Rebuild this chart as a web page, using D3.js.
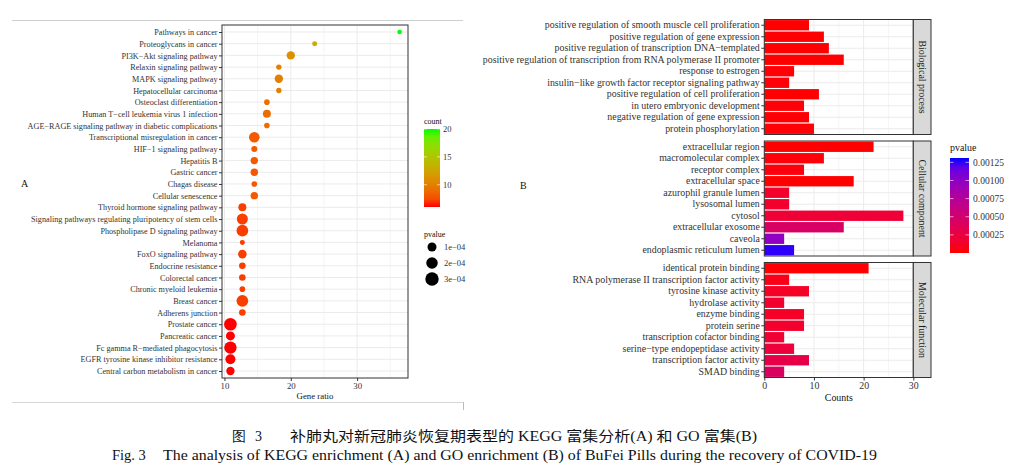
<!DOCTYPE html>
<html><head><meta charset="utf-8">
<script src="https://cdn.jsdelivr.net/npm/d3@7"></script>
<style>body{margin:0;background:#fff}svg{display:block}text{font-family:"Liberation Serif","DejaVu Serif",serif}</style>
</head><body><svg id="c" width="1019" height="475"></svg>
<script>
// ---------- Panel A (KEGG) data ----------
const keggTerms = ["Pathways in cancer","Proteoglycans in cancer","PI3K\u2212Akt signaling pathway","Relaxin signaling pathway","MAPK signaling pathway","Hepatocellular carcinoma","Osteoclast differentiation","Human T\u2212cell leukemia virus 1 infection","AGE\u2212RAGE signaling pathway in diabetic complications","Transcriptional misregulation in cancer","HIF\u22121 signaling pathway","Hepatitis B","Gastric cancer","Chagas disease","Cellular senescence","Thyroid hormone signaling pathway","Signaling pathways regulating pluripotency of stem cells","Phospholipase D signaling pathway","Melanoma","FoxO signaling pathway","Endocrine resistance","Colorectal cancer","Chronic myeloid leukemia","Breast cancer","Adherens junction","Prostate cancer","Pancreatic cancer","Fc gamma R\u2212mediated phagocytosis","EGFR tyrosine kinase inhibitor resistance","Central carbon metabolism in cancer"];
const keggCount = [20,13,11,10,10,10,9,9,9,8,8,8,8,8,8,7,7,7,7,7,7,7,7,7,7,6,6,6,6,6];
const keggRatio = [36.4,23.6,20.0,18.2,18.2,18.2,16.4,16.4,16.4,14.5,14.5,14.5,14.5,14.5,14.5,12.7,12.7,12.7,12.7,12.7,12.7,12.7,12.7,12.7,12.7,10.9,10.9,10.9,10.9,10.9];
const keggP = [7e-6,1.1e-5,8e-5,1.6e-5,8e-5,1.6e-5,1.9e-5,6.9e-5,1.9e-5,1.6e-4,2.5e-5,5.4e-5,5.4e-5,1.9e-5,5.4e-5,6.9e-5,1.8e-4,2.1e-4,1.1e-5,8.7e-5,3.6e-5,3.6e-5,1.9e-5,2.1e-4,3.6e-5,2.56e-4,1.0e-4,2.45e-4,1.36e-4,8e-5];
const gratioTicks = [10,20,30];
const countTicks = [10,15,20];
const sizeTicks = [1e-4,2e-4,3e-4];
const sizeLabels = ["1e\u221204","2e\u221204","3e\u221204"];

// ---------- Panel B (GO) data ----------
const goFacets = ["Biological process","Cellular component","Molecular function"];
const bpTerms = ["positive regulation of smooth muscle cell proliferation","positive regulation of gene expression","positive regulation of transcription DNA\u2212templated","positive regulation of transcription from RNA polymerase II promoter","response to estrogen","insulin\u2212like growth factor receptor signaling pathway","positive regulation of cell proliferation","in utero embryonic development","negative regulation of gene expression","protein phosphorylation"];
const bpCounts = [9,12,13,16,6,5,11,8,9,10];
const bpP = [2e-6,5e-6,3e-6,1e-7,1e-5,2e-5,1e-6,1.5e-5,8e-6,1e-5];
const ccTerms = ["extracellular region","macromolecular complex","receptor complex","extracellular space","azurophil granule lumen","lysosomal lumen","cytosol","extracellular exosome","caveola","endoplasmic reticulum lumen"];
const ccCounts = [22,12,8,18,5,5,28,16,4,6];
const ccP = [1e-8,2e-5,3e-5,1e-6,1.4e-4,1.4e-4,1.9e-4,4.4e-4,9.8e-4,1.28e-3];
const mfTerms = ["identical protein binding","RNA polymerase II transcription factor activity","tyrosine kinase activity","hydrolase activity","enzyme binding","protein serine","transcription cofactor binding","serine\u2212type endopeptidase activity","transcription factor activity","SMAD binding"];
const mfCounts = [21,5,9,4,8,8,4,6,9,4];
const mfP = [5e-6,6e-5,1.2e-4,1.5e-4,1.2e-4,1.5e-4,1.8e-4,2.2e-4,2.8e-4,4.2e-4];
const countAxisTicks = [0,10,20,30];
const pvalTicks = [0.00025,0.0005,0.00075,0.001,0.00125];
const pvalLabels = ["0.00025","0.00050","0.00075","0.00100","0.00125"];

const svg = d3.select("#c");
const GRID = "#ebebeb", BORDER = "#333", TXT = "#333";
const FA = 8.2, FB = 9.9;

// ---------- frame lines ----------
svg.append("line").attr("x1",12).attr("x2",463).attr("y1",20.5).attr("y2",20.5).attr("stroke","#cfcfcf");
svg.append("line").attr("x1",12).attr("x2",463).attr("y1",402.5).attr("y2",402.5).attr("stroke","#d6d6d6");
svg.append("line").attr("x1",463.5).attr("x2",463.5).attr("y1",402).attr("y2",410).attr("stroke","#bbb");

// ================= Panel A =================
const A = {l:222, r:408, t:25, b:378};
const xA = d3.scaleLinear().domain([9.63,37.67]).range([A.l,A.r]);
const yA = d3.scalePoint().domain(keggTerms).range([A.t,A.b]).padding(0.6);
const colA = d3.scaleLinear().domain([6,20]).range(["#ff0000","#00ff00"]).interpolate(d3.interpolateLab);
const rA = d3.scaleSqrt().domain([0,3e-4]).range([1.5,6.7]);
const gA = svg.append("g");
[15,25,35].forEach(v=>gA.append("line").attr("x1",xA(v)).attr("x2",xA(v)).attr("y1",A.t).attr("y2",A.b).attr("stroke",GRID).attr("stroke-width",0.5));
gratioTicks.forEach(v=>gA.append("line").attr("x1",xA(v)).attr("x2",xA(v)).attr("y1",A.t).attr("y2",A.b).attr("stroke",GRID).attr("stroke-width",1));
keggTerms.forEach(t=>gA.append("line").attr("x1",A.l).attr("x2",A.r).attr("y1",yA(t)).attr("y2",yA(t)).attr("stroke",GRID).attr("stroke-width",1));
gA.selectAll("circle.pt").data(keggTerms).join("circle").attr("class","pt")
  .attr("cx",(d,i)=>xA(keggRatio[i])).attr("cy",d=>yA(d)).attr("r",(d,i)=>rA(keggP[i]))
  .attr("fill",(d,i)=>colA(keggCount[i]));
gA.append("rect").attr("x",A.l).attr("y",A.t).attr("width",A.r-A.l).attr("height",A.b-A.t).attr("fill","none").attr("stroke",BORDER).attr("stroke-width",1);
const axA = gA.append("g").attr("transform",`translate(0,${A.b})`).call(d3.axisBottom(xA).tickValues(gratioTicks).tickSize(3).tickPadding(1.5));
axA.select(".domain").remove();
axA.selectAll("line").attr("stroke",BORDER);
axA.selectAll("text").attr("font-size",8.8).attr("fill",TXT).attr("font-family","Liberation Serif");
const ayA = gA.append("g").attr("transform",`translate(${A.l},0)`).call(d3.axisLeft(yA).tickSize(3).tickPadding(1.5));
ayA.select(".domain").remove();
ayA.selectAll("line").attr("stroke",BORDER);
ayA.selectAll("text").attr("font-size",FA).attr("fill",TXT).attr("font-family","Liberation Serif");
gA.append("text").attr("x",(A.l+A.r)/2).attr("y",399).attr("text-anchor","middle").attr("font-size",8.8).attr("fill","#111").text("Gene ratio");
svg.append("text").attr("x",21).attr("y",187).attr("font-size",10).attr("fill","#111").text("A");

// legend A: count
const defs = svg.append("defs");
const grA = defs.append("linearGradient").attr("id","gA").attr("x1",0).attr("x2",0).attr("y1",1).attr("y2",0);
d3.range(0,1.0001,0.1).forEach(t=>grA.append("stop").attr("offset",t).attr("stop-color",colA(6+14*t)));
svg.append("text").attr("x",424).attr("y",124).attr("font-size",8).attr("fill","#111").text("count");
const cbA = d3.scaleLinear().domain([6,20]).range([207,129]);
svg.append("rect").attr("x",424).attr("y",129).attr("width",16).attr("height",78).attr("fill","url(#gA)");
countTicks.forEach(v=>{
  svg.append("line").attr("x1",424).attr("x2",427).attr("y1",cbA(v)).attr("y2",cbA(v)).attr("stroke","#fff").attr("stroke-width",0.6);
  svg.append("line").attr("x1",437).attr("x2",440).attr("y1",cbA(v)).attr("y2",cbA(v)).attr("stroke","#fff").attr("stroke-width",0.6);
  svg.append("text").attr("x",443).attr("y",cbA(v)+3).attr("font-size",8.5).attr("fill",TXT).text(v);
});
svg.append("text").attr("x",424).attr("y",237).attr("font-size",8).attr("fill","#111").text("pvalue");
const sizeY = d3.scalePoint().domain(sizeTicks).range([247,279]);
sizeTicks.forEach((v,i)=>{
  svg.append("circle").attr("cx",432).attr("cy",sizeY(v)).attr("r",rA(v)).attr("fill","#000");
  svg.append("text").attr("x",444).attr("y",sizeY(v)+3).attr("font-size",8.5).attr("fill",TXT).text(sizeLabels[i]);
});

// ================= Panel B =================
const B = {l:764.3, r:913.3, h:115};
const facetTops = [19.5,141,262.5];
const facetTerms = [bpTerms,ccTerms,mfTerms];
const facetCounts = [bpCounts,ccCounts,mfCounts];
const facetP = [bpP,ccP,mfP];
const xB = d3.scaleLinear().domain([0,30]).range([B.l,B.r]);
const colB = d3.scaleLinear().domain([0,0.00131]).range(["#ff0000","#0000ff"]).interpolate(d3.interpolateLab);
goFacets.forEach((f,k)=>{
  const top = facetTops[k];
  const g = svg.append("g");
  const yB = d3.scaleBand().domain(facetTerms[k]).range([top,top+B.h]).paddingInner(0.1).paddingOuter(0.05);
  [5,15,25].forEach(v=>g.append("line").attr("x1",xB(v)).attr("x2",xB(v)).attr("y1",top).attr("y2",top+B.h).attr("stroke",GRID).attr("stroke-width",0.5));
  countAxisTicks.forEach(v=>g.append("line").attr("x1",xB(v)).attr("x2",xB(v)).attr("y1",top).attr("y2",top+B.h).attr("stroke",GRID));
  facetTerms[k].forEach(t=>g.append("line").attr("x1",B.l).attr("x2",B.r).attr("y1",yB(t)+yB.bandwidth()/2).attr("y2",yB(t)+yB.bandwidth()/2).attr("stroke",GRID));
  g.selectAll("rect.bar").data(facetTerms[k]).join("rect").attr("class","bar")
    .attr("x",xB(0)).attr("y",d=>yB(d)).attr("height",yB.bandwidth())
    .attr("width",(d,i)=>xB(facetCounts[k][i])-xB(0)).attr("fill",(d,i)=>colB(facetP[k][i]));
  g.append("rect").attr("x",B.l).attr("y",top).attr("width",B.r-B.l).attr("height",B.h).attr("fill","none").attr("stroke",BORDER);
  const ay = g.append("g").attr("transform",`translate(${B.l},0)`).call(d3.axisLeft(yB).tickSize(3).tickPadding(1.5));
  ay.select(".domain").remove();
  ay.selectAll("line").attr("stroke",BORDER);
  ay.selectAll("text").attr("font-size",FB).attr("fill",TXT).attr("font-family","Liberation Serif");
  g.append("rect").attr("x",B.r).attr("y",top).attr("width",17.7).attr("height",B.h).attr("fill","#d9d9d9").attr("stroke",BORDER);
  g.append("text").attr("transform",`translate(${B.r+5.5},${top+B.h/2}) rotate(90)`).attr("text-anchor","middle").attr("font-size",FB).attr("fill","#1a1a1a").text(f);
});
const axB = svg.append("g").attr("transform",`translate(0,${facetTops[2]+B.h})`).call(d3.axisBottom(xB).tickValues(countAxisTicks).tickSize(3).tickPadding(1.5));
axB.select(".domain").remove();
axB.selectAll("line").attr("stroke",BORDER);
axB.selectAll("text").attr("font-size",FB).attr("fill",TXT).attr("font-family","Liberation Serif");
svg.append("text").attr("x",(B.l+B.r)/2).attr("y",401).attr("text-anchor","middle").attr("font-size",FB).attr("fill","#111").text("Counts");
svg.append("text").attr("x",520).attr("y",189).attr("font-size",10).attr("fill","#111").text("B");

// legend B
const grB = defs.append("linearGradient").attr("id","gB").attr("x1",0).attr("x2",0).attr("y1",1).attr("y2",0);
d3.range(0,1.0001,0.1).forEach(t=>grB.append("stop").attr("offset",t).attr("stop-color",colB(0.00131*t)));
svg.append("text").attr("x",950).attr("y",151).attr("font-size",FB).attr("fill","#111").text("pvalue");
const cbB = d3.scaleLinear().domain([0,0.00131]).range([253,158]);
svg.append("rect").attr("x",950).attr("y",158).attr("width",19).attr("height",95).attr("fill","url(#gB)");
pvalTicks.forEach((v,i)=>{
  svg.append("line").attr("x1",950).attr("x2",953.5).attr("y1",cbB(v)).attr("y2",cbB(v)).attr("stroke","#fff").attr("stroke-width",0.6);
  svg.append("line").attr("x1",965.5).attr("x2",969).attr("y1",cbB(v)).attr("y2",cbB(v)).attr("stroke","#fff").attr("stroke-width",0.6);
  svg.append("text").attr("x",973).attr("y",cbB(v)+3.2).attr("font-size",9.5).attr("fill",TXT).text(pvalLabels[i]);
});

// ---------- caption ----------
const cap = svg.append("g").attr("fill","#111");
cap.append("text").attr("x",232).attr("y",441).attr("font-size",14).attr("font-family","Noto Sans CJK SC").text("图");
cap.append("text").attr("x",255).attr("y",441).attr("font-size",14).text("3");
cap.append("text").attr("x",290).attr("y",441).attr("font-size",14).attr("textLength",467).attr("lengthAdjust","spacingAndGlyphs")
  .html('<tspan font-family="Noto Sans CJK SC">补肺丸对新冠肺炎恢复期表型的</tspan> KEGG <tspan font-family="Noto Sans CJK SC">富集分析</tspan>(A)  <tspan font-family="Noto Sans CJK SC">和</tspan> GO  <tspan font-family="Noto Sans CJK SC">富集</tspan>(B)');
cap.append("text").attr("x",112).attr("y",460).attr("font-size",14.5).text("Fig. 3");
cap.append("text").attr("x",163).attr("y",460).attr("font-size",14.5).attr("textLength",714).attr("lengthAdjust","spacingAndGlyphs")
  .text("The analysis of KEGG enrichment (A) and GO enrichment (B) of BuFei Pills during the recovery of COVID-19");
</script></body></html>
